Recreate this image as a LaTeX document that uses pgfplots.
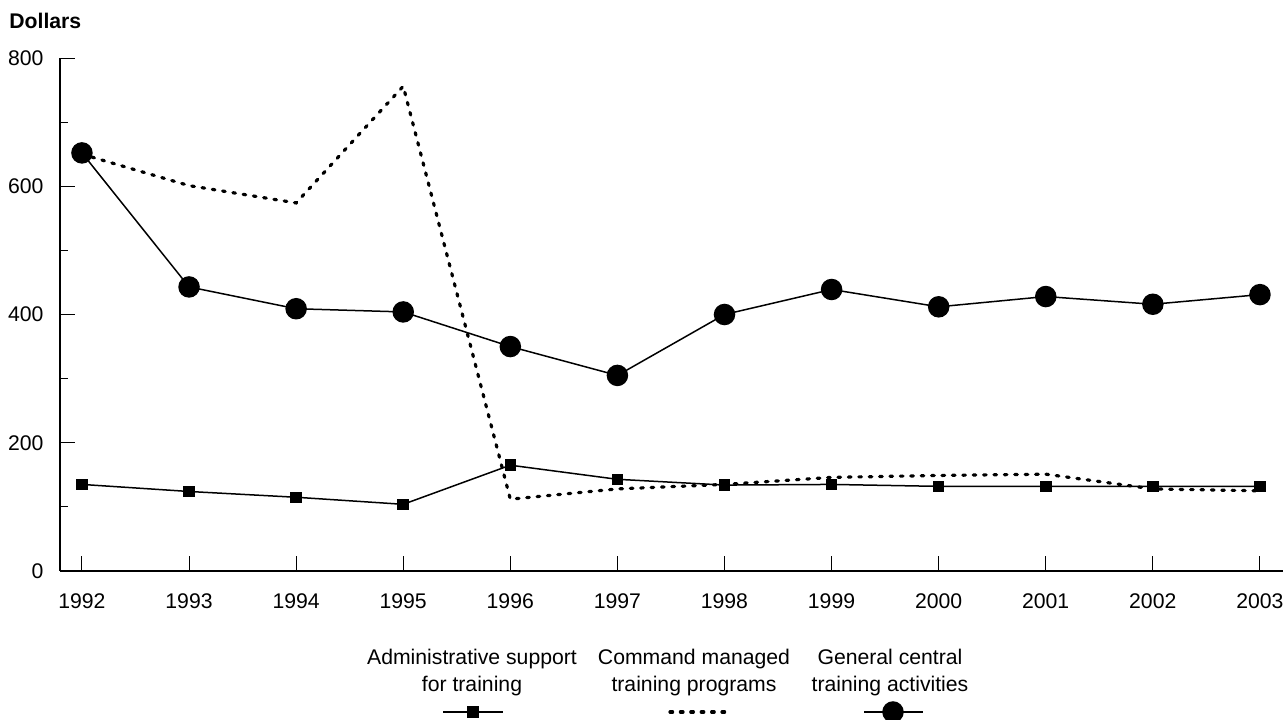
\documentclass[border=0pt]{standalone}
\usepackage{pgfplots}
\pgfplotsset{compat=1.18}
\usepackage{fontspec}
\setmainfont{Liberation Sans}
\begin{document}
\fontsize{10.6pt}{13pt}\selectfont
\begin{tikzpicture}
\useasboundingbox (0,0) rectangle (643.5pt,359.5pt);
\begin{axis}[
  name=main,
  scale only axis,
  width=611.5pt, height=256.5pt,
  at={(30pt,74pt)}, anchor=south west,
  axis lines=left,
  axis line style={-, line width=0.6pt},
  xmin=1991.795, xmax=2003.215,
  ymin=0, ymax=800,
  xtick={1992,...,2003},
  ytick={0,200,400,600,800},
  minor y tick num=1,
  tick align=inside,
  major tick length=7.5pt,
  minor tick length=4pt,
  tick style={line width=0.5pt, black},
  /pgf/number format/assume math mode=true,
  /pgf/number format/1000 sep={},
  tick label style={font=\fontsize{10.6pt}{13pt}\selectfont},
  yticklabel style={xshift=-4.5pt},
  xticklabel style={yshift=-7.5pt},
  clip=false,
]
\addplot[black, line width=0.75pt, mark=square*, mark size=2.5pt] coordinates {
(1992,135)(1993,124)(1994,115)(1995,104)(1996,165)(1997,143)(1998,134)(1999,135)(2000,132)(2001,132)(2002,132)(2003,132)};
\addplot[black, line width=1.6pt, line cap=round, dash pattern=on 1.3pt off 3.9pt] coordinates {
(1992,650)(1993,601)(1994,574)(1995,756)(1996,112)(1997,128)(1998,135)(1999,146)(2000,149)(2001,151)(2002,128)(2003,125)};
\addplot[black, line width=0.75pt, mark=*, mark size=5pt] coordinates {
(1992,652)(1993,443)(1994,409)(1995,404)(1996,350)(1997,305)(1998,400)(1999,439)(2000,412)(2001,428)(2002,416)(2003,431)};
\node[anchor=base west, font=\bfseries\fontsize{10.6pt}{13pt}\selectfont, inner sep=0pt] at ([xshift=-25.5pt,yshift=15pt]rel axis cs:0,1) {Dollars};
\end{axis}
\begin{axis}[
  scale only axis,
  width=643.5pt, height=359.5pt,
  at={(0,0)}, anchor=south west,
  xmin=0, xmax=1287, ymin=0, ymax=719,
  hide axis, clip=false,
]
\addplot[black, line width=0.75pt, mark=square*, mark size=2.5pt, mark indices={2}] coordinates {(443,7)(473,7)(503,7)};
\addplot[black, line width=1.6pt, line cap=round, dash pattern=on 1.3pt off 3.9pt] coordinates {(670,7)(728,7)};
\addplot[black, line width=0.75pt, mark=*, mark size=5pt, mark indices={2}] coordinates {(864,7)(893,7)(923,7)};
\node[anchor=base, inner sep=0pt] at (axis cs:472,55) {Administrative support};
\node[anchor=base, inner sep=0pt] at (axis cs:472,28) {for training};
\node[anchor=base, inner sep=0pt] at (axis cs:694,55) {Command managed};
\node[anchor=base, inner sep=0pt] at (axis cs:694,28) {training programs};
\node[anchor=base, inner sep=0pt] at (axis cs:890,55) {General central};
\node[anchor=base, inner sep=0pt] at (axis cs:890,28) {training activities};
\end{axis}
\end{tikzpicture}
\end{document}
